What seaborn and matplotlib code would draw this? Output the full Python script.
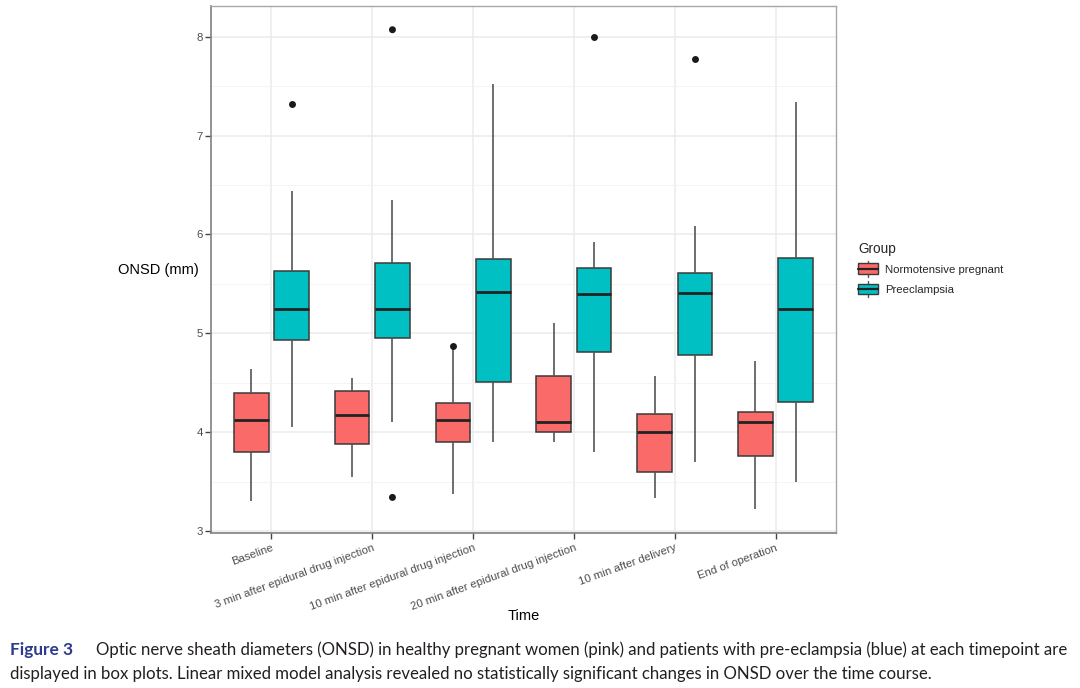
import numpy as np
import pandas as pd
import matplotlib
matplotlib.use("Agg")
import matplotlib.pyplot as plt
import seaborn as sns
from matplotlib.legend_handler import HandlerBase
from matplotlib.patches import Rectangle, Patch
from matplotlib.lines import Line2D

# ---------------- data ----------------
times = ["Baseline", "3 min after epidural drug injection",
         "10 min after epidural drug injection", "20 min after epidural drug injection",
         "10 min after delivery", "End of operation"]
groups = ["Normotensive pregnant", "Preeclampsia"]

# Normotensive pregnant: whisker low, Q1, median, Q3, whisker high
norm_lo  = [3.30, 3.55, 3.37, 3.90, 3.33, 3.22]
norm_q1  = [3.80, 3.88, 3.90, 4.00, 3.60, 3.76]
norm_med = [4.12, 4.17, 4.12, 4.10, 4.00, 4.10]
norm_q3  = [4.40, 4.42, 4.29, 4.57, 4.18, 4.20]
norm_hi  = [4.64, 4.55, 4.86, 5.10, 4.57, 4.72]

# Preeclampsia
pre_lo  = [4.05, 4.10, 3.90, 3.80, 3.70, 3.50]
pre_q1  = [4.93, 4.95, 4.51, 4.81, 4.78, 4.30]
pre_med = [5.25, 5.25, 5.42, 5.40, 5.41, 5.25]
pre_q3  = [5.63, 5.71, 5.75, 5.66, 5.61, 5.76]
pre_hi  = [6.44, 6.35, 7.52, 5.92, 6.09, 7.34]

# outliers: (time index, group, value)
out_time  = [2, 0, 1, 1, 3, 4]
out_group = ["Normotensive pregnant", "Preeclampsia", "Preeclampsia",
             "Preeclampsia", "Preeclampsia", "Preeclampsia"]
out_value = [4.875, 7.32, 8.07, 3.34, 8.00, 7.77]

caption_head = "Figure 3"
caption_line1 = ("Optic nerve sheath diameters (ONSD) in healthy pregnant women (pink) and "
                 "patients with pre-eclampsia (blue) at each timepoint are")
caption_line2 = ("displayed in box plots. Linear mixed model analysis revealed no statistically "
                 "significant changes in ONSD over the time course.")

# ---------------- build tables ----------------
rows = []
for i, t in enumerate(times):
    for v in (norm_lo[i], norm_q1[i], norm_med[i], norm_q3[i], norm_hi[i]):
        rows.append((t, groups[0], v))
    for v in (pre_lo[i], pre_q1[i], pre_med[i], pre_q3[i], pre_hi[i]):
        rows.append((t, groups[1], v))
df = pd.DataFrame(rows, columns=["Time", "Group", "ONSD"])
df_out = pd.DataFrame({"Time": [times[i] for i in out_time],
                       "Group": out_group, "ONSD": out_value})

pink = "#FA6A68"
teal = "#00C0C3"
palette = {groups[0]: pink, groups[1]: teal}

# ---------------- figure ----------------
sns.set_theme(style="white")
plt.rcParams["font.family"] = ["Liberation Sans", "DejaVu Sans"]

W, H = 1080, 688
fig = plt.figure(figsize=(W / 100, H / 100), dpi=100)
L, R, T, B = 211, 836, 6, 533
ax = fig.add_axes([L / W, 1 - B / H, (R - L) / W, (B - T) / H])

sns.boxplot(data=df, x="Time", y="ONSD", hue="Group", order=times, hue_order=groups,
            palette=palette, width=0.8, gap=0.14, whis=(0, 100), showcaps=False,
            showfliers=False, saturation=1, linewidth=1.0, linecolor="#333333",
            boxprops=dict(edgecolor="#3a3a3a", linewidth=1.1),
            whiskerprops=dict(color="#555555", linewidth=1.2),
            medianprops=dict(color="#222222", linewidth=2.0),
            legend=False, ax=ax, zorder=3)

sns.stripplot(data=df_out, x="Time", y="ONSD", hue="Group", order=times,
              hue_order=groups, dodge=True, jitter=False,
              palette={groups[0]: "#1a1a1a", groups[1]: "#1a1a1a"},
              size=5, linewidth=0, legend=False, ax=ax, zorder=4)

ax.set_xlim(-0.6, len(times) - 0.4)
ax.set_ylim(2.98, 8.31)
ax.set_yticks([3, 4, 5, 6, 7, 8])
ax.set_yticks([3.5, 4.5, 5.5, 6.5, 7.5], minor=True)
ax.grid(True, which="major", color="#EBEBEB", linewidth=1.1, zorder=0)
ax.grid(True, which="minor", axis="y", color="#F3F3F3", linewidth=0.6, zorder=0)
ax.set_axisbelow(True)

for s in ["top", "right"]:
    ax.spines[s].set_color("#A8A8A8")
    ax.spines[s].set_linewidth(1.0)
for s in ["left", "bottom"]:
    ax.spines[s].set_color("#808080")
    ax.spines[s].set_linewidth(1.2)

ax.tick_params(axis="both", which="major", direction="out", length=4, width=1.0,
               color="#444444", labelcolor="#4D4D4D", labelsize=8.2, pad=2)
ax.tick_params(axis="y", which="minor", length=0)
ax.tick_params(axis="x", bottom=True, pad=3)
ax.tick_params(axis="y", left=True)
ax.set_yticklabels(["3", "4", "5", "6", "7", "8"])
for lab in ax.get_xticklabels():
    lab.set_rotation(20)
    lab.set_ha("right")
    lab.set_va("top")
    lab.set_rotation_mode("anchor")

ax.set_xlabel("Time", fontsize=10.5, color="black")
ax.xaxis.set_label_coords(0.5, -(616 - B) / (B - T))
ax.xaxis.label.set_va("center")
ax.set_ylabel("ONSD (mm)", fontsize=10.5, color="black", rotation=0, ha="center", va="center")
ax.yaxis.set_label_coords((158 - L) / (R - L), 0.5 + (((B + T) / 2) - 270) / (B - T))


# ---------------- legend with boxplot glyphs ----------------
class BoxHandler(HandlerBase):
    def create_artists(self, legend, orig_handle, xdescent, ydescent, width, height,
                       fontsize, trans):
        x0, y0 = -xdescent, -ydescent
        cx = x0 + width / 2
        bh = height * 0.72
        by = y0 + (height - bh) / 2
        rect = Rectangle((x0, by), width, bh, facecolor=orig_handle.get_facecolor(),
                         edgecolor="#3a3a3a", linewidth=1.0, transform=trans)
        med = Line2D([x0, x0 + width], [y0 + height / 2] * 2, color="#222222",
                     linewidth=1.6, transform=trans)
        w1 = Line2D([cx, cx], [y0 - height * 0.02, by], color="#555555",
                    linewidth=1.0, transform=trans)
        w2 = Line2D([cx, cx], [by + bh, y0 + height * 1.02], color="#555555",
                    linewidth=1.0, transform=trans)
        return [w1, w2, rect, med]


handles = [Patch(facecolor=pink), Patch(facecolor=teal)]
leg = fig.legend(handles, groups, title="Group", loc="upper left",
                 bbox_to_anchor=(848 / W, 1 - 232 / H), frameon=False,
                 handler_map={Patch: BoxHandler()}, fontsize=8.2, title_fontsize=9.8,
                 handlelength=1.75, handleheight=1.65, handletextpad=0.6,
                 labelspacing=0.45, alignment="left")

# ---------------- caption ----------------
cap_font = ["Lato", "DejaVu Sans"]
t_head = fig.text(10 / W, 1 - 650 / H, caption_head, fontsize=12.5, fontweight="bold",
                  color="#2E3A8C", family=cap_font, va="center", ha="left")
t1 = fig.text(96 / W, 1 - 650 / H, caption_line1, fontsize=12.5, color="#231F20",
              family=cap_font, va="center", ha="left")
t2 = fig.text(10 / W, 1 - 674 / H, caption_line2, fontsize=12.5, color="#231F20",
              family=cap_font, va="center", ha="left")

# fit caption widths to the reference layout
renderer = fig.canvas.get_renderer()
w1 = t1.get_window_extent(renderer).width
fs = 12.5 * (1070 - 96) / w1
t1.set_fontsize(fs)
t2.set_fontsize(fs)
wh = t_head.get_window_extent(renderer).width
t_head.set_fontsize(12.5 * (73 - 10) / wh)

fig.savefig("out.png", dpi=100, facecolor="white")
